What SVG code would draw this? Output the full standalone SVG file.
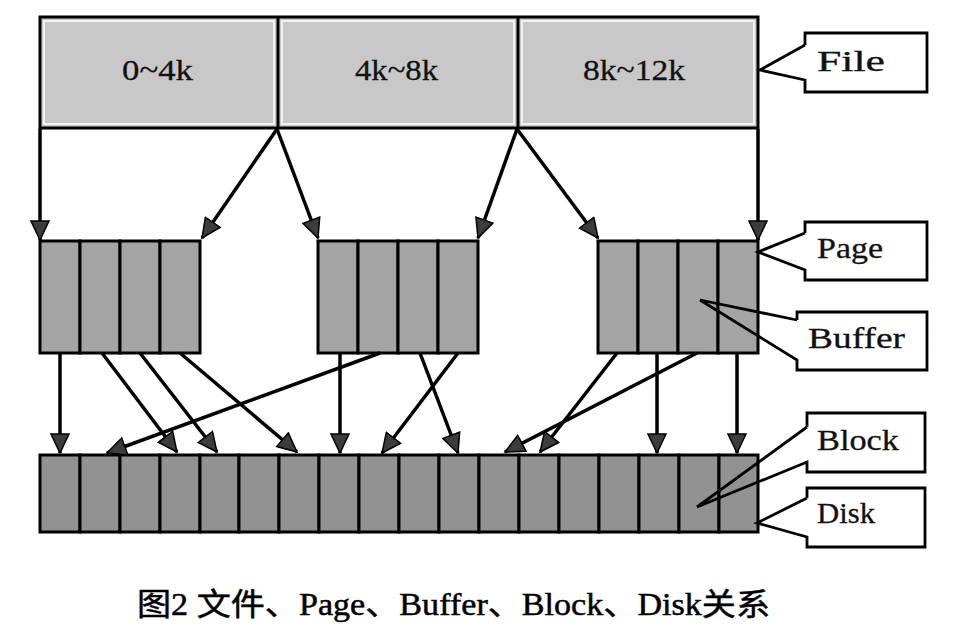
<svg xmlns="http://www.w3.org/2000/svg" width="964" height="635" viewBox="0 0 964 635">
<style>
.bar{fill:#c8c8c8;stroke:#000;stroke-width:3}
.hl{fill:none;stroke:#f2f2f2;stroke-width:2}
.pcell{fill:#a4a4a4;stroke:#000;stroke-width:3}
.dcell{fill:#929292;stroke:#000;stroke-width:3}
.rng{font-family:"Liberation Serif",serif;font-size:30px;fill:#111;stroke:#111;stroke-width:0.3}
.lbl{font-family:"Liberation Serif",serif;font-size:29px;fill:#111;stroke:#111;stroke-width:0.3}
.cbox{fill:#fff}
.cline{fill:none;stroke:#000;stroke-width:2.8;stroke-linejoin:miter}
.arr{stroke:#000;stroke-width:3.5;fill:none;marker-end:url(#ah)}
.cap{font-family:"Liberation Serif","Noto Sans CJK SC",serif;font-size:31px;fill:#000;stroke:#000;stroke-width:0.5}
</style>
<defs>
<marker id="ah" markerUnits="userSpaceOnUse" markerWidth="22" markerHeight="20" refX="19" refY="9" orient="auto" viewBox="-1 -1 22 20">
<path d="M0,0 L19,9 L0,18 Z" fill="#3c3c3c" stroke="#000" stroke-width="1.5"/>
</marker>
</defs>
<rect width="964" height="635" fill="#fff"/>

<g id="file">
<rect class="bar" x="40" y="17" width="718" height="111"/>
<rect class="hl" x="44" y="21" width="230" height="103"/>
<rect class="hl" x="282" y="21" width="232" height="103"/>
<rect class="hl" x="522" y="21" width="232" height="103"/>
<line x1="278" y1="17" x2="278" y2="128" stroke="#000" stroke-width="3"/>
<line x1="518" y1="17" x2="518" y2="128" stroke="#000" stroke-width="3"/>
<text class="rng" x="122" y="80" textLength="71" lengthAdjust="spacingAndGlyphs">0~4k</text>
<text class="rng" x="355" y="80" textLength="83" lengthAdjust="spacingAndGlyphs">4k~8k</text>
<text class="rng" x="583" y="80" textLength="102" lengthAdjust="spacingAndGlyphs">8k~12k</text>
</g>

<g id="page1">
<rect class="pcell" x="40" y="241" width="40" height="112"/>
<rect class="pcell" x="80" y="241" width="40" height="112"/>
<rect class="pcell" x="120" y="241" width="40" height="112"/>
<rect class="pcell" x="160" y="241" width="40" height="112"/>
</g>
<g id="page2">
<rect class="pcell" x="318" y="241" width="40" height="112"/>
<rect class="pcell" x="358" y="241" width="40" height="112"/>
<rect class="pcell" x="398" y="241" width="40" height="112"/>
<rect class="pcell" x="438" y="241" width="40" height="112"/>
</g>
<g id="page3">
<rect class="pcell" x="598" y="241" width="40" height="112"/>
<rect class="pcell" x="638" y="241" width="40" height="112"/>
<rect class="pcell" x="678" y="241" width="40" height="112"/>
<rect class="pcell" x="718" y="241" width="40" height="112"/>
</g>

<g id="disk">
<rect class="dcell" x="40" y="455" width="40" height="77"/>
<rect class="dcell" x="80" y="455" width="40" height="77"/>
<rect class="dcell" x="120" y="455" width="40" height="77"/>
<rect class="dcell" x="160" y="455" width="40" height="77"/>
<rect class="dcell" x="200" y="455" width="39" height="77"/>
<rect class="dcell" x="239" y="455" width="40" height="77"/>
<rect class="dcell" x="279" y="455" width="40" height="77"/>
<rect class="dcell" x="319" y="455" width="40" height="77"/>
<rect class="dcell" x="359" y="455" width="40" height="77"/>
<rect class="dcell" x="399" y="455" width="40" height="77"/>
<rect class="dcell" x="439" y="455" width="40" height="77"/>
<rect class="dcell" x="479" y="455" width="40" height="77"/>
<rect class="dcell" x="519" y="455" width="40" height="77"/>
<rect class="dcell" x="559" y="455" width="40" height="77"/>
<rect class="dcell" x="599" y="455" width="40" height="77"/>
<rect class="dcell" x="639" y="455" width="40" height="77"/>
<rect class="dcell" x="679" y="455" width="40" height="77"/>
<rect class="dcell" x="719" y="455" width="39" height="77"/>
</g>

<g id="connectors">
<line class="arr" x1="40" y1="129" x2="40" y2="240"/>
<line class="arr" x1="277" y1="129" x2="202" y2="238"/>
<line class="arr" x1="277" y1="129" x2="318" y2="238"/>
<line class="arr" x1="517" y1="129" x2="478" y2="238"/>
<line class="arr" x1="517" y1="129" x2="598" y2="238"/>
<line class="arr" x1="758" y1="129" x2="758" y2="240"/>

<line class="arr" x1="60" y1="353" x2="60" y2="453"/>
<line class="arr" x1="102" y1="353" x2="177" y2="452"/>
<line class="arr" x1="140" y1="353" x2="217" y2="452"/>
<line class="arr" x1="180" y1="353" x2="297" y2="452"/>
<line class="arr" x1="380" y1="353" x2="107" y2="453"/>
<line class="arr" x1="340" y1="353" x2="340" y2="453"/>
<line class="arr" x1="458" y1="353" x2="382" y2="453"/>
<line class="arr" x1="420" y1="353" x2="458" y2="453"/>
<line class="arr" x1="617" y1="353" x2="540" y2="452"/>
<line class="arr" x1="697" y1="353" x2="505" y2="452"/>
<line class="arr" x1="657" y1="353" x2="657" y2="453"/>
<line class="arr" x1="737" y1="353" x2="737" y2="453"/>
</g>

<g id="callout-file">
<rect class="cbox" x="805" y="33" width="122" height="59"/>
<path class="cline" d="M805,45 V33 H927 V92 H805 V80 L760,70 L805,45"/>
<text class="lbl" x="817" y="71" textLength="68" lengthAdjust="spacingAndGlyphs">File</text>
</g>
<g id="callout-page">
<rect class="cbox" x="805" y="222" width="122" height="58"/>
<path class="cline" d="M805,233 V222 H927 V280 H805 V270 L758,252 L805,233"/>
<text class="lbl" x="817" y="258" textLength="66" lengthAdjust="spacingAndGlyphs">Page</text>
</g>
<g id="callout-buffer">
<rect class="cbox" x="797" y="312" width="130" height="58"/>
<path class="cline" d="M797,320 V312 H927 V370 H797 V360 L700,300 L797,320"/>
<text class="lbl" x="808" y="348" textLength="97" lengthAdjust="spacingAndGlyphs">Buffer</text>
</g>
<g id="callout-block">
<rect class="cbox" x="807" y="413" width="118" height="59"/>
<path class="cline" d="M807,427 V413 H925 V472 H807 V462 L697,507 L807,427"/>
<text class="lbl" x="817" y="450" textLength="82" lengthAdjust="spacingAndGlyphs">Block</text>
</g>
<g id="callout-disk">
<rect class="cbox" x="807" y="488" width="118" height="59"/>
<path class="cline" d="M807,498 V488 H925 V547 H807 V537 L757,523 L807,498"/>
<text class="lbl" x="817" y="523" textLength="58" lengthAdjust="spacingAndGlyphs">Disk</text>
</g>

<g id="caption">
<text class="cap" x="137" y="615" textLength="633" lengthAdjust="spacingAndGlyphs">图2 文件、Page、Buffer、Block、Disk关系</text>
</g>
</svg>
